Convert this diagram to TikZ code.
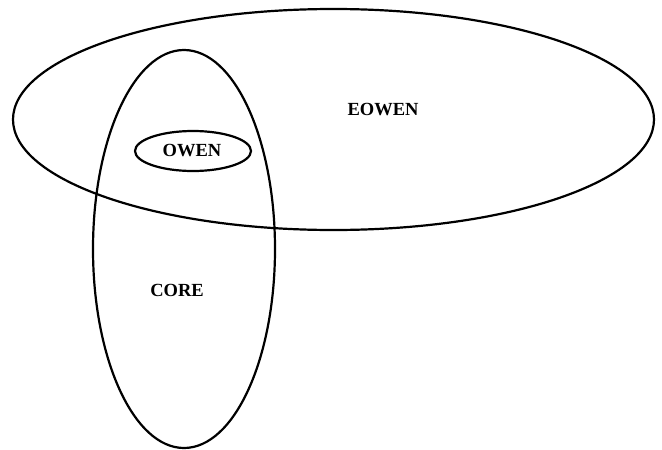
\documentclass[tikz,border=0pt]{standalone}
\usepackage{fontspec}
\setmainfont{Liberation Serif}
\usetikzlibrary{shapes.geometric}
\begin{document}
\begin{tikzpicture}[x=1pt,y=-1pt,
  set/.style={draw=black,line width=2.2pt,ellipse,inner sep=0pt},
  lbl/.style={font=\fontsize{18.5}{20}\selectfont\bfseries,inner sep=0pt}]
\useasboundingbox (0,0) rectangle (662,450);
\node[set,minimum width=641pt,minimum height=221pt] (eowen) at (333.5,119.5) {};
\node[set,minimum width=182pt,minimum height=398pt] (core) at (184,249) {};
\node[set,minimum width=116pt,minimum height=40pt] (owen) at (193,151) {};
\node[lbl] (teowen) at (383,110) {EOWEN};
\node[lbl] (towen) at (192,151) {OWEN};
\node[lbl] (tcore) at (177,290) {CORE};
\end{tikzpicture}
\end{document}
